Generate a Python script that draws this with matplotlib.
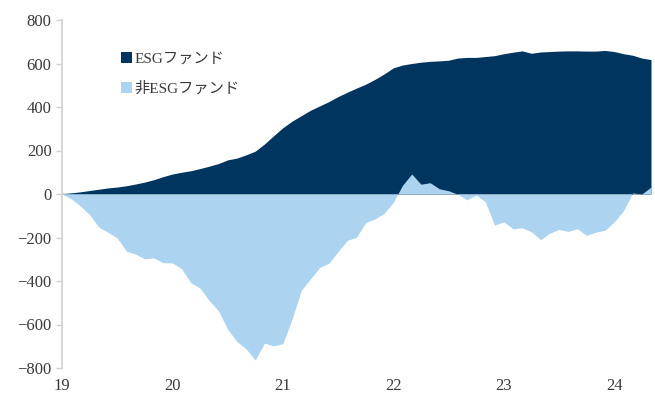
import matplotlib
matplotlib.use("Agg")
import matplotlib.pyplot as plt
import numpy as np

# 月次の累積資金流出入（億円）、2019年1月〜2024年5月
esg = [0, 5, 10, 16, 22, 28, 32, 38, 46, 55, 66, 80,
       92, 100, 107, 117, 128, 140, 157, 165, 180, 197, 230, 268,
       305, 335, 360, 385, 405, 425, 448, 468, 487, 505, 527, 552,
       580, 593, 600, 606, 610, 612, 615, 625, 628, 628, 632, 636,
       645, 652, 658, 647, 653, 655, 657, 658, 658, 657, 657, 660,
       655, 645, 638, 625, 618]
non_esg = [0, -22, -55, -95, -152, -176, -202, -263, -277, -298, -294, -316,
           -317, -344, -408, -433, -490, -537, -622, -678, -712, -763, -686, -698,
           -688, -575, -443, -390, -338, -318, -265, -213, -199, -131, -115, -89,
           -38, 40, 92, 45, 52, 24, 15, -1, -27, -5, -36, -143,
           -128, -160, -155, -174, -210, -180, -163, -172, -160, -190, -175, -167,
           -128, -78, 5, 0, 32]
year_ticks = [19, 20, 21, 22, 23, 24]
labels = ["ESGファンド", "非ESGファンド"]

DARK = "#003560"
LIGHT = "#acd3ef"
GRID = "#d0d0d0"
TXT = "#3a3a3a"

plt.rcParams["font.family"] = ["Liberation Serif", "Noto Sans CJK JP", "DejaVu Sans"]

x = 19 + np.arange(len(esg)) / 12

fig = plt.figure(figsize=(6.55, 3.94), dpi=100)
ax = fig.add_axes([62 / 655, 26 / 394, 589 / 655, 348 / 394])

ax.fill_between(x, 0, esg, color=DARK, lw=0, label=labels[0], zorder=2)
ax.fill_between(x, 0, non_esg, color=LIGHT, lw=0, label=labels[1], zorder=3)

# 0の線と年の目盛り
ax.axhline(0, color=GRID, lw=1.2, zorder=1)
ax.vlines(year_ticks[1:], -14, 14, color=GRID, lw=1, zorder=1)

ax.set_xlim(x[0], x[-1])
ax.set_ylim(-800, 800)
ax.set_yticks(range(-800, 801, 200))
ax.set_xticks(year_ticks)
ax.set_xticklabels([str(t) for t in year_ticks])

for side in ["top", "right", "bottom"]:
    ax.spines[side].set_visible(False)
ax.spines["left"].set_color(GRID)
ax.spines["left"].set_linewidth(1.2)
ax.tick_params(axis="y", colors=GRID, labelcolor=TXT, labelsize=12, length=4, width=1)
ax.tick_params(axis="x", length=0, labelcolor=TXT, labelsize=12, pad=7)
ax.set_yticklabels([str(v).replace("-", "\u2212") for v in range(-800, 801, 200)])

leg = ax.legend(loc="upper left", bbox_to_anchor=(0.09, 0.925), frameon=False,
                fontsize=11, handlelength=0.7, handleheight=0.7, handletextpad=0.2,
                labelspacing=1.0, borderaxespad=0)
for t in leg.get_texts():
    t.set_color(TXT)

fig.savefig("out.png", dpi=100)
